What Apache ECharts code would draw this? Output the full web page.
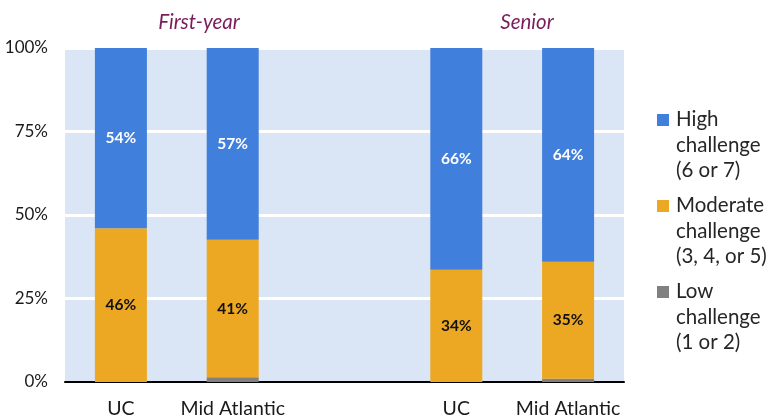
<!DOCTYPE html>
<html><head><meta charset="utf-8">
<script src="https://cdn.jsdelivr.net/npm/echarts@6/dist/echarts.min.js"></script>
<style>html,body{margin:0;padding:0;background:#fff}#c{width:773px;height:419px}</style>
</head><body><div id="c"></div>
<script>
var categories = ['UC', 'Mid Atlantic', '', 'UC', 'Mid Atlantic'];
var groupTitles = ['First-year', 'Senior'];
var lowValues = [0, 1.4, '-', 0, 1];
var moderateValues = [46, 41.2, '-', 33.6, 35];
var highValues = [54, 57.4, '-', 66.4, 64];
var seriesNames = ['High\nchallenge\n(6 or 7)', 'Moderate\nchallenge\n(3, 4, or 5)', 'Low\nchallenge\n(1 or 2)'];
var yTicks = [0, 25, 50, 75, 100];

var FONT = 'Lato, "Noto Sans", sans-serif';
var iconPath = 'path://M0,0h0.01v0.01h-0.01Z M0,7H12V19H0Z M0,76.5h0.01v-0.01h-0.01Z';

function lbl(color, show) {
  return {
    show: show, position: 'inside', color: color, fontFamily: FONT,
    fontWeight: 'bold', fontSize: 15.5,
    formatter: function (p) { return p.value > 0 ? Math.round(p.value) + '%' : ''; }
  };
}

var chart = echarts.init(document.getElementById('c'), null, {renderer: 'canvas'});
chart.setOption({
  animation: false,
  textStyle: {fontFamily: FONT},
  title: [
    {text: groupTitles[0], left: 194, top: 7, textAlign: 'center',
     textStyle: {fontFamily: FONT, fontStyle: 'italic', fontWeight: 'normal', fontSize: 20.5, color: '#7a1d5c'}},
    {text: groupTitles[1], left: 522, top: 7, textAlign: 'center',
     textStyle: {fontFamily: FONT, fontStyle: 'italic', fontWeight: 'normal', fontSize: 20.5, color: '#7a1d5c'}}
  ],
  grid: {left: 65, right: 149, top: 48, bottom: 37, show: true, backgroundColor: '#dae5f6', borderWidth: 0},
  legend: {
    orient: 'vertical', left: 652, top: 102, itemWidth: 12, itemHeight: 76.5, itemGap: 9.5,
    selectedMode: false, icon: iconPath,
    data: [seriesNames[0], seriesNames[1], seriesNames[2]],
    textStyle: {fontFamily: FONT, fontSize: 20.5, lineHeight: 25.5, color: '#262626', padding: [0, 0, 0, 2]}
  },
  xAxis: {
    type: 'category', data: categories,
    axisLine: {lineStyle: {color: '#000', width: 2}},
    axisTick: {show: false},
    axisLabel: {fontFamily: FONT, fontSize: 19.5, color: '#1a1a1a', margin: 17, interval: 0}
  },
  yAxis: {
    type: 'value', min: 0, max: 100, interval: 25,
    axisLabel: {formatter: '{value}%', fontFamily: FONT, fontSize: 17, color: '#1a1a1a', margin: 17},
    axisLine: {show: false}, axisTick: {show: false},
    splitLine: {lineStyle: {color: '#ffffff', width: 3}}
  },
  series: [
    {name: seriesNames[2], type: 'bar', stack: 'a', data: lowValues, barWidth: 52,
     itemStyle: {color: '#808080'}, label: lbl('#000', false)},
    {name: seriesNames[1], type: 'bar', stack: 'a', data: moderateValues, barWidth: 52,
     itemStyle: {color: '#eda823'}, label: lbl('#111', true)},
    {name: seriesNames[0], type: 'bar', stack: 'a', data: highValues, barWidth: 52,
     itemStyle: {color: '#407fdb'}, label: lbl('#ffffff', true)}
  ]
});
</script></body></html>
